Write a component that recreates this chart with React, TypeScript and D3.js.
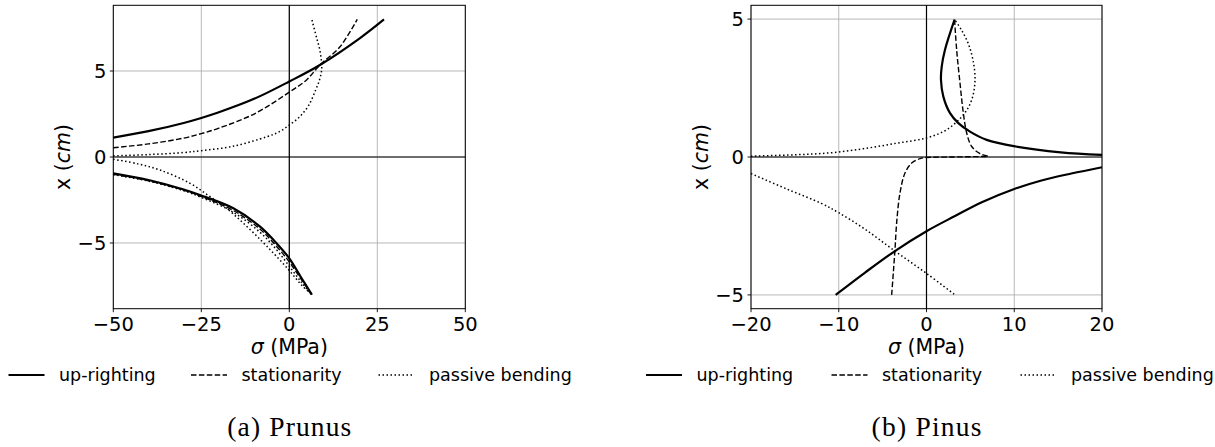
import React from "react";
import * as d3 from "d3";

type Pt = [number, number]; // [sigma (MPa), x (cm)]

// ---------- Panel (a) Prunus ----------
const prunusSigmaTicks = [-50, -25, 0, 25, 50];
const prunusXTicks = [-5, 0, 5];
const prunusUprightUpper: Pt[] = [[-50, 1.13], [-40, 1.5], [-30, 1.98], [-25, 2.27], [-20, 2.6], [-10, 3.38], [0, 4.39], [8.7, 5.35], [20, 6.9], [26.9, 8.0]];
const prunusStationarityUpper: Pt[] = [[-50, 0.54], [-40, 0.76], [-30, 1.1], [-25, 1.36], [-20, 1.68], [-10, 2.5], [0, 3.77], [4.9, 4.48], [8.7, 5.35], [14.4, 6.41], [19.3, 8.0]];
const prunusPassiveUpper: Pt[] = [[-50, 0.07], [-40, 0.14], [-30, 0.26], [-25, 0.37], [-16, 0.62], [-6.4, 1.18], [-3, 1.45], [0, 1.86], [3, 2.35], [5.5, 3.0], [7.5, 3.9], [8.6, 4.5], [9.2, 5.1], [9.1, 5.6], [8.6, 6.3], [7.8, 6.9], [6.4, 8.0]];
const prunusUprightLower: Pt[] = [[-50, -0.95], [-40, -1.34], [-30, -1.89], [-25.4, -2.21], [-15.9, -2.98], [-8.3, -4.05], [-3.6, -5.02], [0, -5.89], [3.5, -7.05], [6.4, -8.0]];
const prunusStationarityLower: Pt[] = [[-50, -1.0], [-40, -1.38], [-30, -1.93], [-25, -2.3], [-16, -3.1], [-8.3, -4.2], [-3.6, -5.2], [0, -6.1], [3.5, -7.15], [6.4, -8.0]];
const prunusPassiveLowerA: Pt[] = [[-50, -0.13], [-43, -0.4], [-36.7, -0.76], [-28.2, -1.53], [-22.5, -2.31], [-18, -2.95], [-13, -3.86], [-8, -4.85], [-4, -5.7], [0, -6.6], [3.5, -7.45], [6.4, -8.0]];
const prunusPassiveLowerB: Pt[] = [[-50, -1.03], [-40, -1.4], [-30, -1.96], [-25, -2.35], [-16, -3.2], [-8.3, -4.38], [-3.6, -5.4], [0, -6.35], [3.5, -7.3], [6.4, -8.0]];

// ---------- Panel (b) Pinus ----------
const pinusSigmaTicks = [-20, -10, 0, 10, 20];
const pinusXTicks = [-5, 0, 5];
const pinusUprightUpper: Pt[] = [[3.2, 4.98], [2.1, 3.88], [1.73, 3.27], [1.65, 2.79], [1.92, 2.19], [2.68, 1.59], [3.63, 1.23], [4.96, 0.92], [6.86, 0.62], [10.2, 0.38], [15.3, 0.17], [20, 0.08]];
const pinusUprightLower: Pt[] = [[-10.35, -5.0], [-7, -4.19], [-3.6, -3.41], [0, -2.69], [3.25, -2.14], [6.3, -1.64], [10, -1.16], [13, -0.86], [16.5, -0.6], [20, -0.37]];
const pinusStationarityUpper: Pt[] = [[3.2, 4.98], [3.44, 3.87], [3.82, 2.67], [4.2, 1.59], [4.58, 0.87], [5.15, 0.38], [6.1, 0.12], [7.05, 0.03]];
const pinusStationarityLower: Pt[] = [[-3.97, -5.0], [-3.78, -4.19], [-3.59, -3.35], [-3.4, -2.38], [-3.02, -1.3], [-2.45, -0.58], [-1.69, -0.22], [-0.74, -0.06], [0, -0.02], [3, 0.0], [7, 0.02]];
const pinusPassiveUpper: Pt[] = [[-20, 0.03], [-15, 0.08], [-11, 0.15], [-7.2, 0.3], [-3.4, 0.5], [0, 0.69], [2.3, 0.99], [4.2, 1.53], [5.15, 2.07], [5.53, 2.79], [5.3, 3.51], [4.75, 4.12], [4.0, 4.6], [3.25, 4.96]];
const pinusPassiveLower: Pt[] = [[-20, -0.6], [-16, -1.15], [-12, -1.68], [-10, -2.02], [-7, -2.62], [-3.6, -3.41], [0, -4.22], [3.25, -5.0]];

const legendLabels = ["up-righting", "stationarity", "passive bending"];

type Style = "solid" | "dashed" | "dotted";
const styleAttrs: Record<Style, { w: number; dash?: string }> = {
  solid: { w: 2.2 },
  dashed: { w: 1.4, dash: "5.5,2.4" },
  dotted: { w: 1.5, dash: "1.5,2.5" },
};

const FONT = "'DejaVu Sans', sans-serif";
const fmt = (v: number) => (v < 0 ? "\u2212" + Math.abs(v) : String(v));

interface PanelProps {
  x0: number;
  x1: number;
  sigmaDomain: [number, number];
  xDomain: [number, number];
  sigmaTicks: number[];
  xTicks: number[];
  series: { data: Pt[]; style: Style }[];
  legendStarts: number[];
  caption: string;
  captionWidth: number;
}

function Panel(p: PanelProps) {
  const top = 5.3;
  const bottom = 308.7;
  const sx = d3.scaleLinear().domain(p.sigmaDomain).range([p.x0, p.x1]);
  const sy = d3.scaleLinear().domain(p.xDomain).range([bottom, top]);
  const line = d3
    .line<Pt>()
    .x((d) => sx(d[0]))
    .y((d) => sy(d[1]))
    .curve(d3.curveCatmullRom.alpha(0.5));
  const cx = (p.x0 + p.x1) / 2;
  const cy = (top + bottom) / 2;
  const styles: Style[] = ["solid", "dashed", "dotted"];
  return (
    <g>
      {p.sigmaTicks.map((t) => (
        <line key={"gx" + t} x1={sx(t)} x2={sx(t)} y1={top} y2={bottom} stroke="#b0b0b0" strokeWidth={0.9} />
      ))}
      {p.xTicks.map((t) => (
        <line key={"gy" + t} x1={p.x0} x2={p.x1} y1={sy(t)} y2={sy(t)} stroke="#b0b0b0" strokeWidth={0.9} />
      ))}
      <line x1={p.x0} x2={p.x1} y1={sy(0)} y2={sy(0)} stroke="#000" strokeWidth={1.2} />
      <line x1={sx(0)} x2={sx(0)} y1={top} y2={bottom} stroke="#000" strokeWidth={1.2} />
      {p.series.map((s, i) => (
        <path
          key={i}
          d={line(s.data) || ""}
          fill="none"
          stroke="#000"
          strokeWidth={styleAttrs[s.style].w}
          strokeDasharray={styleAttrs[s.style].dash}
          strokeLinejoin="round"
        />
      ))}
      <rect x={p.x0} y={top} width={p.x1 - p.x0} height={bottom - top} fill="none" stroke="#000" strokeWidth={1} />
      {p.sigmaTicks.map((t) => (
        <g key={"tx" + t}>
          <line x1={sx(t)} x2={sx(t)} y1={bottom} y2={bottom + 3.5} stroke="#000" strokeWidth={0.9} />
          <text x={sx(t)} y={bottom + 22.5} textAnchor="middle" fontFamily={FONT} fontSize={19.5} fill="#000">
            {fmt(t)}
          </text>
        </g>
      ))}
      {p.xTicks.map((t) => (
        <g key={"ty" + t}>
          <line x1={p.x0 - 3.5} x2={p.x0} y1={sy(t)} y2={sy(t)} stroke="#000" strokeWidth={0.9} />
          <text x={p.x0 - 7} y={sy(t) + 7.1} textAnchor="end" fontFamily={FONT} fontSize={19.5} fill="#000">
            {fmt(t)}
          </text>
        </g>
      ))}
      <text x={cx} y={354} textAnchor="middle" fontFamily={FONT} fontSize={20.5} fill="#000">
        <tspan fontStyle="italic">σ</tspan> (MPa)
      </text>
      <text transform={`translate(${p.x0 - 43},${cy}) rotate(-90)`} textAnchor="middle" fontFamily={FONT} fontSize={20.5} fill="#000">
        x (<tspan fontStyle="italic">cm</tspan>)
      </text>
      {styles.map((st, i) => (
        <g key={"lg" + st}>
          <line
            x1={p.legendStarts[i]}
            x2={p.legendStarts[i] + 36}
            y1={375}
            y2={375}
            stroke="#000"
            strokeWidth={styleAttrs[st].w}
            strokeDasharray={styleAttrs[st].dash}
          />
          <text x={p.legendStarts[i] + 50.5} y={381} fontFamily={FONT} fontSize={17.5} fill="#000">
            {legendLabels[i]}
          </text>
        </g>
      ))}
      <text
        x={cx - p.captionWidth / 2}
        y={436}
        fontFamily="'Liberation Serif', serif"
        fontSize={27.5}
        textLength={p.captionWidth}
        lengthAdjust="spacing"
        fill="#000"
      >
        {p.caption}
      </text>
    </g>
  );
}

export default function App() {
  return (
    <svg
      width={1215}
      height={447}
      viewBox="0 0 1215 447"
      style={{ position: "absolute", left: 0, top: 0, background: "#fff" }}
    >
      <rect width={1215} height={447} fill="#fff" />
      <Panel
        x0={113.3}
        x1={465.3}
        sigmaDomain={[-50, 50]}
        xDomain={[-8.82, 8.82]}
        sigmaTicks={prunusSigmaTicks}
        xTicks={prunusXTicks}
        series={[
          { data: prunusUprightUpper, style: "solid" },
          { data: prunusStationarityUpper, style: "dashed" },
          { data: prunusPassiveUpper, style: "dotted" },
          { data: prunusUprightLower, style: "solid" },
          { data: prunusStationarityLower, style: "dashed" },
          { data: prunusPassiveLowerA, style: "dotted" },
          { data: prunusPassiveLowerB, style: "dotted" },
        ]}
        legendStarts={[8.5, 191, 378.5]}
        caption="(a) Prunus"
        captionWidth={124}
      />
      <Panel
        x0={751}
        x1={1102}
        sigmaDomain={[-20, 20]}
        xDomain={[-5.5, 5.5]}
        sigmaTicks={pinusSigmaTicks}
        xTicks={pinusXTicks}
        series={[
          { data: pinusUprightUpper, style: "solid" },
          { data: pinusUprightLower, style: "solid" },
          { data: pinusStationarityUpper, style: "dashed" },
          { data: pinusStationarityLower, style: "dashed" },
          { data: pinusPassiveUpper, style: "dotted" },
          { data: pinusPassiveLower, style: "dotted" },
        ]}
        legendStarts={[646, 831.5, 1020.5]}
        caption="(b) Pinus"
        captionWidth={110}
      />
    </svg>
  );
}
